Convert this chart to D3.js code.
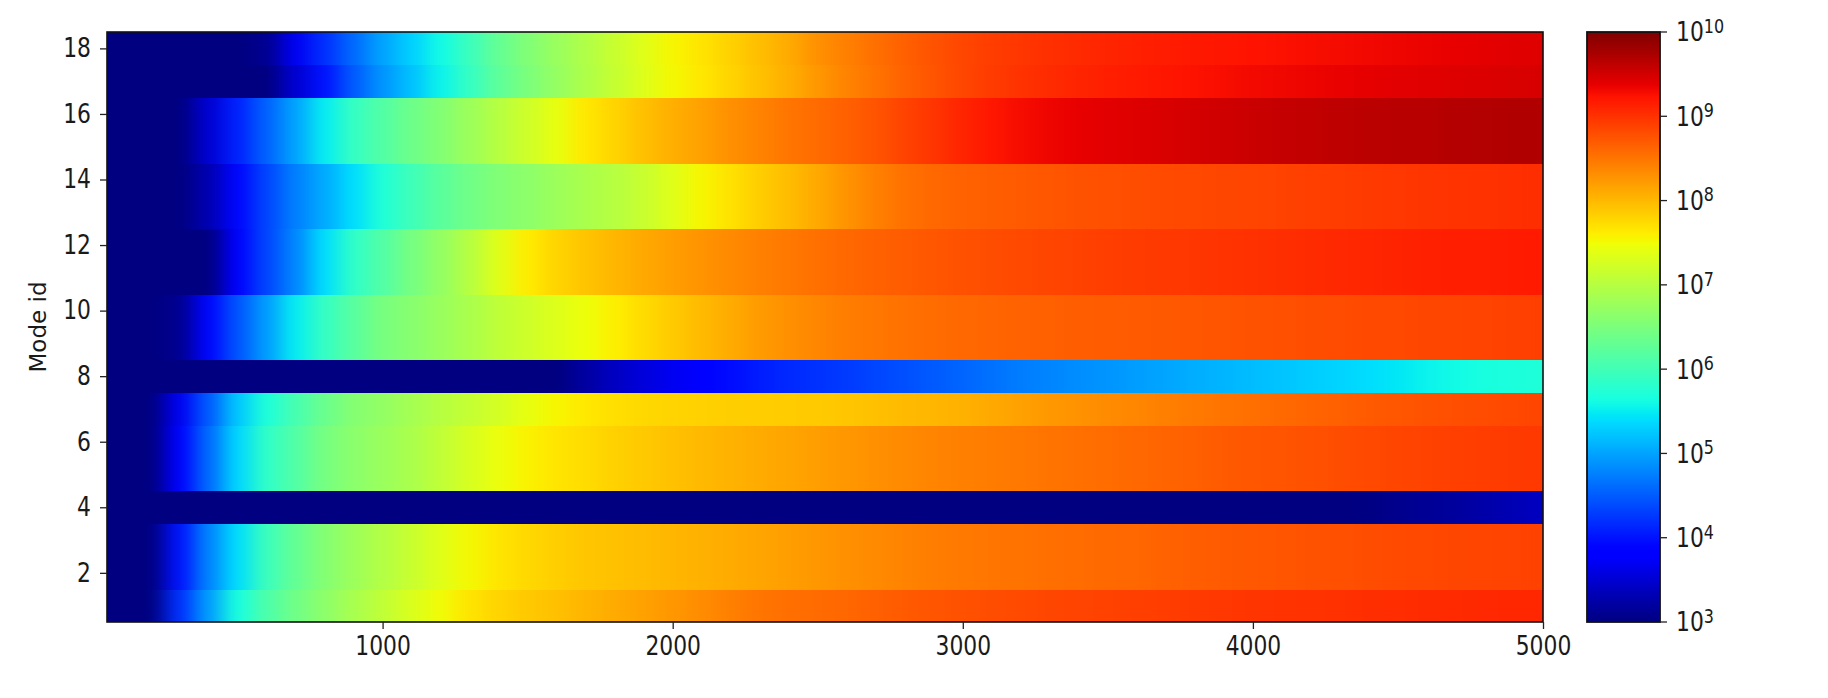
<!DOCTYPE html>
<html><head><meta charset="utf-8">
<script src="https://cdn.jsdelivr.net/npm/d3@7"></script>
<style>
body{margin:0;background:#fff}
svg{display:block}
text{font-family:"DejaVu Sans",sans-serif;fill:#1a1a1a}
</style>
</head><body>
<svg id="chart" width="1828" height="698"></svg>
<script>
// ---------------- data (log10 of the value per cell) ----------------
const xValues = [100,200,300,400,500,600,700,800,900,1000,
  1100,1200,1300,1400,1500,1600,1700,1800,1900,2000,
  2100,2200,2300,2400,2500,2600,2700,2800,2900,3000,
  3100,3200,3300,3400,3500,3600,3700,3800,3900,4000,
  4100,4200,4300,4400,4500,4600,4700,4800,4900,5000];
const modeIds = [1,2,3,4,5,6,7,8,9,10,11,12,13,14,15,16,17,18];

const mode1 = [2.5,3.0,4.2,4.95,5.65,6.1,6.4,6.65,6.88,7.08, 7.3,7.5,7.68,7.8,7.88,7.95,8.03,8.1,8.18,8.25, 8.33,8.42,8.5,8.55,8.58,8.61,8.66,8.7,8.74,8.77, 8.8,8.82,8.85,8.87,8.88,8.9,8.92,8.94,8.96,8.98, 8.99,9.0,9.01,9.03,9.04,9.05,9.06,9.07,9.08,9.08];
const mode2 = [2.5,2.95,4.0,4.78,5.4,5.95,6.3,6.57,6.78,6.97, 7.15,7.35,7.53,7.67,7.77,7.84,7.9,7.94,7.98,8.02, 8.06,8.1,8.15,8.2,8.25,8.3,8.35,8.4,8.44,8.47, 8.5,8.52,8.55,8.57,8.59,8.61,8.64,8.67,8.7,8.72, 8.74,8.76,8.78,8.8,8.82,8.84,8.85,8.86,8.87,8.88];
const mode3 = [2.5,2.95,4.0,4.78,5.4,5.95,6.3,6.57,6.78,6.97, 7.15,7.35,7.53,7.67,7.77,7.84,7.9,7.94,7.98,8.02, 8.06,8.1,8.15,8.2,8.25,8.3,8.35,8.4,8.44,8.47, 8.5,8.52,8.55,8.57,8.59,8.61,8.64,8.67,8.7,8.72, 8.74,8.76,8.78,8.8,8.82,8.84,8.85,8.86,8.87,8.88];
const mode4 = [2.3,2.3,2.3,2.3,2.3,2.3,2.3,2.3,2.3,2.3, 2.3,2.3,2.3,2.3,2.3,2.3,2.3,2.3,2.3,2.3, 2.3,2.3,2.3,2.3,2.3,2.3,2.3,2.3,2.3,2.3, 2.3,2.3,2.3,2.3,2.3,2.5,2.5,2.5,2.5,2.7, 2.8,2.9,2.95,3.02,3.08,3.13,3.18,3.25,3.32,3.4];
const mode5 = [2.5,2.9,3.8,4.6,5.35,5.85,6.15,6.45,6.63,6.76, 6.9,7.08,7.28,7.45,7.58,7.67,7.74,7.82,7.88,7.94, 8.0,8.05,8.1,8.15,8.2,8.25,8.3,8.35,8.39,8.42, 8.45,8.48,8.51,8.54,8.57,8.6,8.63,8.66,8.7,8.73, 8.75,8.77,8.8,8.83,8.86,8.88,8.9,8.92,8.94,8.95];
const mode6 = [2.5,2.9,3.8,4.6,5.35,5.85,6.15,6.45,6.63,6.76, 6.9,7.08,7.28,7.45,7.58,7.67,7.74,7.82,7.88,7.94, 8.0,8.05,8.1,8.15,8.2,8.25,8.3,8.35,8.39,8.42, 8.45,8.48,8.51,8.54,8.57,8.6,8.63,8.66,8.7,8.73, 8.75,8.77,8.8,8.83,8.86,8.88,8.9,8.92,8.94,8.95];
const mode7 = [2.5,2.9,3.7,4.5,5.25,5.7,6.05,6.35,6.58,6.7, 6.85,7.0,7.12,7.25,7.42,7.55,7.65,7.72,7.77,7.8, 7.82,7.84,7.85,7.86,7.87,7.9,7.95,7.99,8.02,8.06, 8.12,8.18,8.24,8.29,8.34,8.38,8.43,8.47,8.51,8.55, 8.59,8.63,8.66,8.7,8.73,8.76,8.79,8.81,8.84,8.86];
const mode8 = [2.4,2.4,2.4,2.4,2.4,2.4,2.4,2.4,2.4,2.4, 2.5,2.5,2.6,2.7,2.8,3.0,3.2,3.4,3.55,3.7, 3.82,3.95,4.07,4.15,4.21,4.27,4.35,4.42,4.49,4.57, 4.65,4.73,4.79,4.85,4.9,4.96,5.01,5.07,5.12,5.17, 5.22,5.28,5.33,5.39,5.46,5.54,5.6,5.65,5.68,5.71];
const mode9 = [2.5,2.6,3.1,3.9,4.45,4.95,5.5,5.9,6.2,6.47, 6.6,6.75,6.9,7.07,7.2,7.33,7.47,7.6,7.75,7.87, 7.99,8.1,8.22,8.3,8.38,8.44,8.49,8.53,8.57,8.6, 8.62,8.64,8.66,8.68,8.69,8.7,8.71,8.73,8.75,8.76, 8.78,8.8,8.81,8.83,8.84,8.85,8.86,8.87,8.89,8.9];
const mode10 = [2.5,2.6,3.1,3.9,4.45,4.95,5.5,5.9,6.2,6.47, 6.6,6.75,6.9,7.07,7.2,7.33,7.47,7.6,7.75,7.87, 7.99,8.1,8.22,8.3,8.38,8.44,8.49,8.53,8.57,8.6, 8.62,8.64,8.66,8.68,8.69,8.7,8.71,8.73,8.75,8.76, 8.78,8.8,8.81,8.83,8.84,8.85,8.86,8.87,8.89,8.9];
const mode11 = [2.5,2.5,2.6,3.0,3.8,4.35,4.8,5.4,5.85,6.15, 6.45,6.7,7.0,7.35,7.62,7.8,7.92,8.02,8.12,8.2, 8.28,8.35,8.42,8.48,8.54,8.6,8.65,8.69,8.73,8.77, 8.8,8.83,8.86,8.88,8.91,8.93,8.95,8.97,8.99,9.01, 9.03,9.05,9.07,9.09,9.11,9.13,9.14,9.15,9.17,9.18];
const mode12 = [2.5,2.5,2.6,3.0,3.8,4.35,4.8,5.4,5.85,6.15, 6.45,6.7,7.0,7.35,7.62,7.8,7.92,8.02,8.12,8.2, 8.28,8.35,8.42,8.48,8.54,8.6,8.65,8.69,8.73,8.77, 8.8,8.83,8.86,8.88,8.91,8.93,8.95,8.97,8.99,9.01, 9.03,9.05,9.07,9.09,9.11,9.13,9.14,9.15,9.17,9.18];
const mode13 = [2.5,2.5,2.7,3.3,3.9,4.35,4.75,5.05,5.4,5.72, 5.98,6.22,6.4,6.55,6.65,6.78,6.9,7.0,7.15,7.35, 7.55,7.7,7.85,7.98,8.12,8.28,8.42,8.53,8.6,8.64, 8.67,8.7,8.73,8.76,8.78,8.8,8.82,8.84,8.85,8.86, 8.88,8.9,8.92,8.94,8.96,8.98,8.99,9.0,9.02,9.03];
const mode14 = [2.5,2.5,2.7,3.3,3.9,4.35,4.75,5.05,5.4,5.72, 5.98,6.22,6.4,6.55,6.65,6.78,6.9,7.0,7.15,7.35, 7.55,7.7,7.85,7.98,8.12,8.28,8.42,8.53,8.6,8.64, 8.67,8.7,8.73,8.76,8.78,8.8,8.82,8.84,8.85,8.86, 8.88,8.9,8.92,8.94,8.96,8.98,8.99,9.0,9.02,9.03];
const mode15 = [2.5,2.5,2.8,3.5,4.1,4.55,5.0,5.5,5.9,6.15, 6.38,6.56,6.78,7.0,7.2,7.42,7.65,7.8,7.95,8.07, 8.18,8.3,8.4,8.5,8.58,8.66,8.75,8.87,8.98,9.1, 9.2,9.28,9.33,9.37,9.4,9.43,9.46,9.49,9.52,9.55, 9.58,9.6,9.62,9.64,9.65,9.66,9.68,9.69,9.7,9.71];
const mode16 = [2.5,2.5,2.8,3.5,4.1,4.55,5.0,5.5,5.9,6.15, 6.38,6.56,6.78,7.0,7.2,7.42,7.65,7.8,7.95,8.07, 8.18,8.3,8.4,8.5,8.58,8.66,8.75,8.87,8.98,9.1, 9.2,9.28,9.33,9.37,9.4,9.43,9.46,9.49,9.52,9.55, 9.58,9.6,9.62,9.64,9.65,9.66,9.68,9.69,9.7,9.71];
const mode17 = [2.5,2.5,2.5,2.6,2.8,3.0,3.5,4.0,4.5,4.9, 5.2,5.55,5.9,6.25,6.5,6.72,6.93,7.13,7.33,7.53, 7.66,7.8,7.94,8.08,8.25,8.4,8.52,8.64,8.75,8.85, 8.93,9.0,9.05,9.1,9.14,9.18,9.21,9.24,9.27,9.3, 9.32,9.34,9.36,9.38,9.4,9.41,9.43,9.44,9.46,9.47];
const mode18 = [2.5,2.5,2.5,2.6,2.8,3.1,3.7,4.2,4.6,5.0, 5.3,5.6,5.95,6.3,6.55,6.75,6.95,7.15,7.35,7.55, 7.68,7.82,7.96,8.1,8.3,8.42,8.55,8.66,8.76,8.85, 8.92,8.97,9.02,9.06,9.1,9.13,9.16,9.19,9.21,9.23, 9.25,9.27,9.29,9.31,9.33,9.35,9.37,9.39,9.41,9.43];

const xTicks = [1000,2000,3000,4000,5000];
const yTicks = [2,4,6,8,10,12,14,16,18];
const cbarExponents = [3,4,5,6,7,8,9,10];
const xDomain = [50,5000];
const yLabel = "Mode id";

// ---------------- layout ----------------
const rows = [mode1,mode2,mode3,mode4,mode5,mode6,mode7,mode8,mode9,mode10,
              mode11,mode12,mode13,mode14,mode15,mode16,mode17,mode18];
const plot = {left:107, right:1543, top:32, bottom:622};
const cbar = {left:1587, right:1660};
const FS = 26, SX = 0.84;

const svg = d3.select("#chart");
const defs = svg.append("defs");
const x = d3.scaleLinear().domain(xDomain).range([plot.left, plot.right]);
const y = d3.scaleLinear().domain([0.5, 18.5]).range([plot.bottom, plot.top]);
const norm = d3.scaleLog().domain([1e3, 1e10]).range([0, 1]).clamp(true);

// matplotlib "jet" colormap
const jR = d3.scaleLinear().domain([0,0.35,0.66,0.89,1]).range([0,0,1,1,0.5]).clamp(true);
const jG = d3.scaleLinear().domain([0,0.125,0.375,0.64,0.91,1]).range([0,0,1,1,0,0]).clamp(true);
const jB = d3.scaleLinear().domain([0,0.11,0.34,0.65,1]).range([0.5,1,1,0,0]).clamp(true);
const jet = t => d3.rgb(Math.round(255*jR(t)), Math.round(255*jG(t)), Math.round(255*jB(t))).formatHex();
const colorOf = v => jet(norm(v));

// cells
const step = xValues[1] - xValues[0];
const cells = [];
rows.forEach((r, i) => r.forEach((e, j) => {
  cells.push({mode: modeIds[i], x0: Math.max(xValues[j] - step/2, xDomain[0]),
              x1: Math.min(xValues[j] + step/2, xDomain[1]), v: Math.pow(10, e)});
}));

defs.append("clipPath").attr("id","clipPlot")
  .append("rect").attr("x",plot.left).attr("y",plot.top)
  .attr("width",plot.right-plot.left).attr("height",plot.bottom-plot.top);

// horizontal smoothing (image interpolation look), rows stay sharp
const f = defs.append("filter").attr("id","smooth")
  .attr("filterUnits","userSpaceOnUse")
  .attr("x",plot.left-40).attr("y",plot.top-2)
  .attr("width",plot.right-plot.left+80).attr("height",plot.bottom-plot.top+4)
  .attr("color-interpolation-filters","sRGB");
f.append("feGaussianBlur").attr("in","SourceGraphic").attr("stdDeviation","10 0").attr("result","b");
const fm = f.append("feMerge");
fm.append("feMergeNode").attr("in","SourceGraphic");
fm.append("feMergeNode").attr("in","b");

svg.append("g").attr("clip-path","url(#clipPlot)")
  .append("g").attr("filter","url(#smooth)")
  .selectAll("rect").data(cells).join("rect")
  .attr("x", d => x(d.x0))
  .attr("y", d => y(d.mode + 0.5))
  .attr("width", d => x(d.x1) - x(d.x0) + 0.6)
  .attr("height", d => y(d.mode - 0.5) - y(d.mode + 0.5) + 0.6)
  .attr("fill", d => colorOf(d.v))
  .attr("shape-rendering","crispEdges");

// frame
svg.append("rect").attr("x",plot.left).attr("y",plot.top)
  .attr("width",plot.right-plot.left).attr("height",plot.bottom-plot.top)
  .attr("fill","none").attr("stroke","#111").attr("stroke-width",1.6);

// x axis
const gx = svg.append("g").attr("transform",`translate(0,${plot.bottom})`)
  .call(d3.axisBottom(x).tickValues(xTicks).tickSize(7).tickPadding(8).tickFormat(d3.format("d")));
gx.select(".domain").remove();
gx.selectAll(".tick line").attr("stroke","#222").attr("stroke-width",1.3);
gx.selectAll(".tick text").attr("font-size",FS).attr("font-family","DejaVu Sans")
  .attr("fill","#1a1a1a").attr("transform",`scale(${SX},1)`);

// y axis
const gy = svg.append("g").attr("transform",`translate(${plot.left},0)`)
  .call(d3.axisLeft(y).tickValues(yTicks).tickSize(7).tickPadding(9).tickFormat(d3.format("d")));
gy.select(".domain").remove();
gy.selectAll(".tick line").attr("stroke","#222").attr("stroke-width",1.3);
gy.selectAll(".tick text").attr("font-size",FS).attr("font-family","DejaVu Sans")
  .attr("fill","#1a1a1a").attr("x", -16/SX).attr("transform",`scale(${SX},1)`);

svg.append("text").attr("transform",`translate(38,${(plot.top+plot.bottom)/2}) rotate(-90)`)
  .attr("text-anchor","middle").attr("dy","0.35em").attr("font-size",23).text(yLabel);

// colorbar
const grad = defs.append("linearGradient").attr("id","jetGrad")
  .attr("x1",0).attr("y1",1).attr("x2",0).attr("y2",0);
d3.range(0, 1.0001, 0.01).forEach(t => grad.append("stop").attr("offset",t).attr("stop-color",jet(t)));
svg.append("rect").attr("x",cbar.left).attr("y",plot.top)
  .attr("width",cbar.right-cbar.left).attr("height",plot.bottom-plot.top)
  .attr("fill","url(#jetGrad)").attr("stroke","#111").attr("stroke-width",1.8);

const cy = d3.scaleLog().domain([1e3,1e10]).range([plot.bottom, plot.top]);
const gc = svg.append("g").attr("transform",`translate(${cbar.right},0)`);
gc.selectAll("line").data(cbarExponents).join("line")
  .attr("x1",0).attr("x2",7).attr("y1",e => cy(Math.pow(10,e))).attr("y2",e => cy(Math.pow(10,e)))
  .attr("stroke","#222").attr("stroke-width",1.3);
const lab = gc.selectAll("text").data(cbarExponents).join("text")
  .attr("transform", e => `translate(16,${cy(Math.pow(10,e))}) scale(${SX},1)`)
  .attr("dy","0.36em").attr("font-size",FS);
lab.append("tspan").text("10");
lab.append("tspan").attr("dy","-0.45em").attr("font-size",19).text(e => e);
</script>
</body></html>
